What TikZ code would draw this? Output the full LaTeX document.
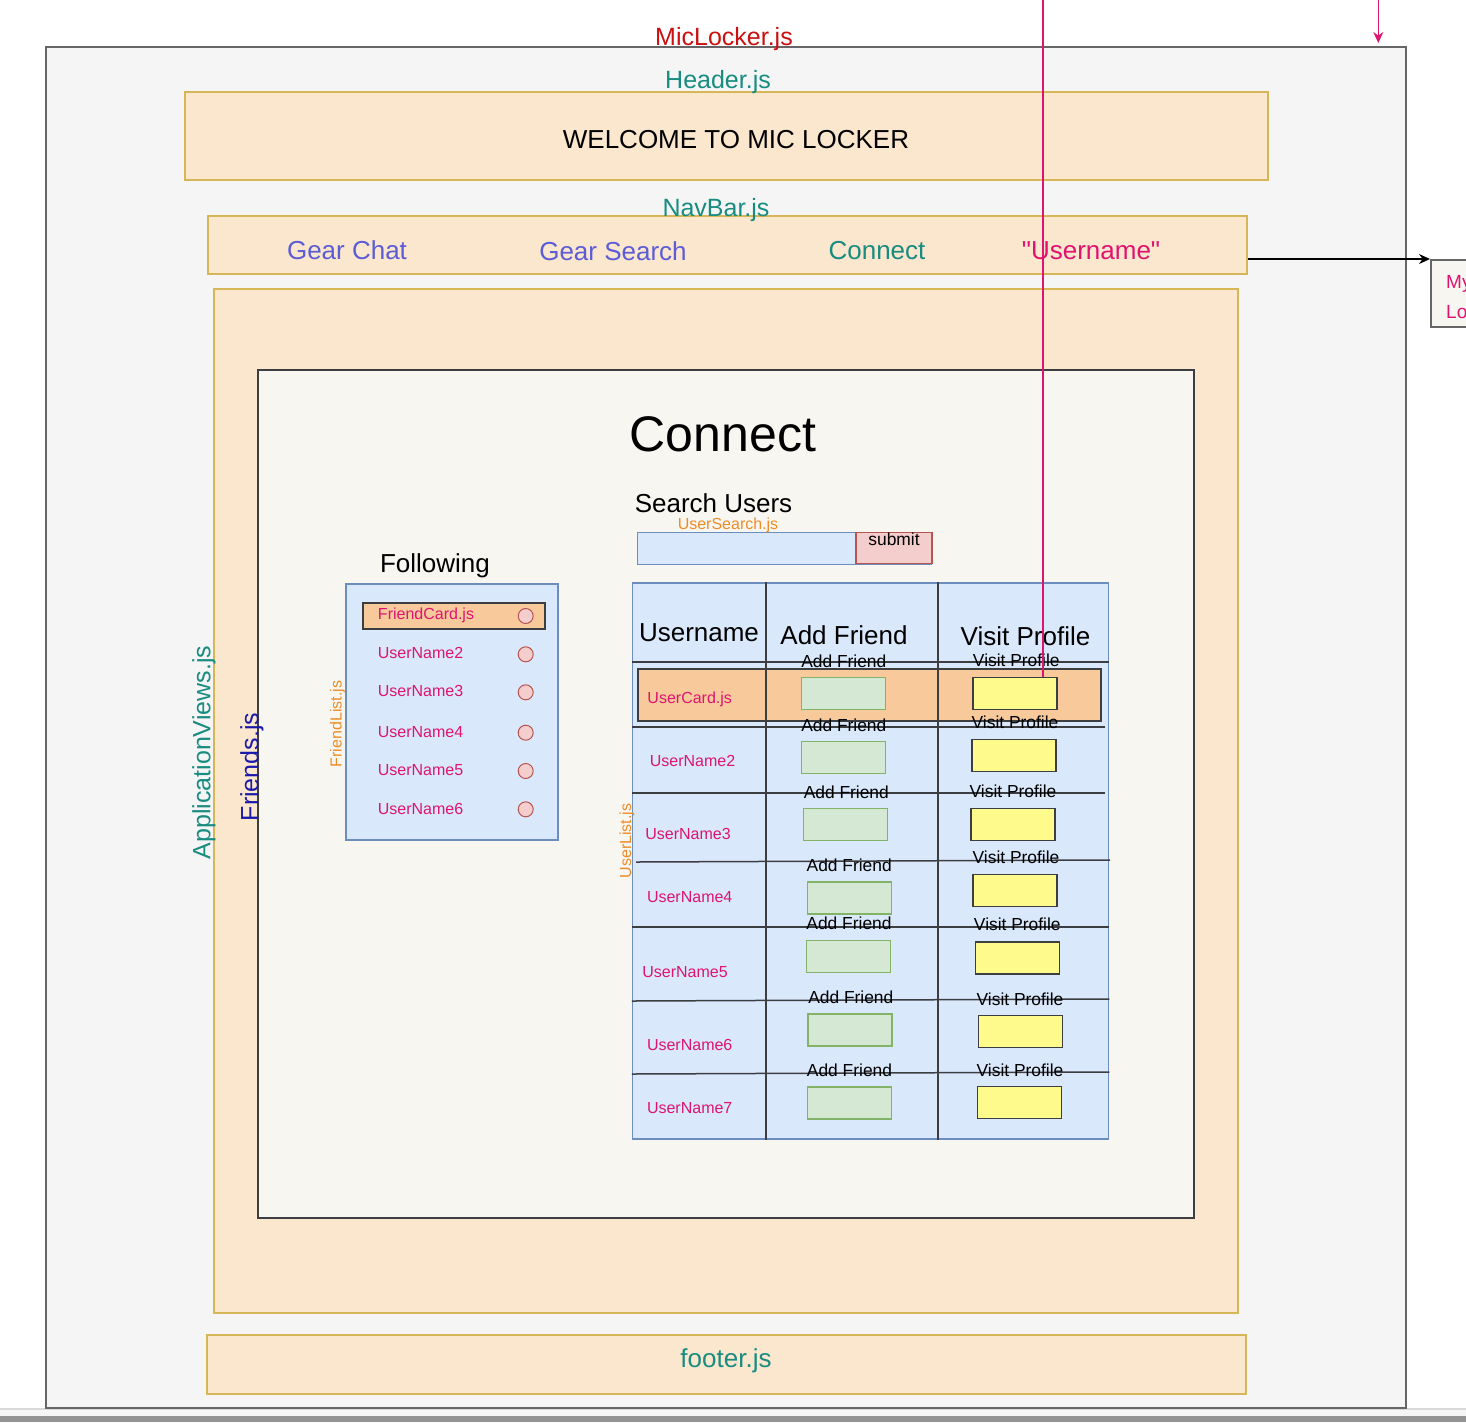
\documentclass[tikz,border=0pt]{standalone}
\usepackage{fontspec}
\setmainfont{Liberation Sans}
\usetikzlibrary{arrows.meta,positioning}
\definecolor{jsred}{RGB}{204,16,16}
\definecolor{jsteal}{RGB}{24,140,128}
\definecolor{navblue}{RGB}{92,92,214}
\definecolor{userpink}{RGB}{222,20,112}
\definecolor{compblue}{RGB}{26,26,170}
\definecolor{listorange}{RGB}{238,140,40}
\definecolor{framegray}{RGB}{102,102,102}
\definecolor{appbg}{RGB}{245,245,245}
\definecolor{compfill}{RGB}{251,230,206}
\definecolor{compline}{RGB}{214,182,86}
\definecolor{pagefill}{RGB}{248,246,240}
\definecolor{darkline}{RGB}{60,62,66}
\definecolor{listfill}{RGB}{218,232,252}
\definecolor{listline}{RGB}{108,142,191}
\definecolor{cardfill}{RGB}{248,202,155}
\definecolor{addfill}{RGB}{213,232,212}
\definecolor{addline}{RGB}{130,179,102}
\definecolor{visitfill}{RGB}{255,250,140}
\definecolor{redfill}{RGB}{244,206,204}
\definecolor{redline}{RGB}{184,84,80}
\tikzset{>={Stealth[length=11pt,width=10pt]}}
\tikzset{appframe/.style={draw=framegray, fill=appbg, line width=2pt}}
\tikzset{compbox/.style={draw=compline, fill=compfill, line width=1.5pt}}
\tikzset{pagebox/.style={draw=darkline, fill=pagefill, line width=1.5pt}}
\tikzset{listbox/.style={draw=listline, fill=listfill, line width=1.5pt}}
\tikzset{cardbox/.style={draw=darkline, fill=cardfill, line width=1.5pt}}
\tikzset{addbtn/.style={draw=addline, fill=addfill, line width=1.8pt, minimum width=84, minimum height=32}}
\tikzset{visitbtn/.style={draw=darkline, fill=visitfill, line width=1.5pt, minimum width=84, minimum height=32}}
\tikzset{dot/.style={circle, draw=redline, fill=redfill, line width=1pt, minimum size=15, inner sep=0pt}}
\tikzset{gridline/.style={draw=darkline, line width=1.5pt}}
\tikzset{pinkline/.style={draw=userpink, line width=1.2pt}}
\tikzset{lbl/.style={inner sep=0pt}}
\tikzset{bigtxt/.style={lbl, font=\fontsize{25}{30}\selectfont}}
\tikzset{headtxt/.style={lbl, font=\fontsize{26}{30}\selectfont}}
\tikzset{midtxt/.style={lbl, font=\fontsize{17.4}{20}\selectfont}}
\tikzset{smalltxt/.style={lbl, font=\fontsize{16}{19}\selectfont}}

\begin{document}
\begin{tikzpicture}[x=1pt, y=-1pt]
    \useasboundingbox (0,0) rectangle (1466,1422);
    \clip (0,0) rectangle (1466,1422);
    \fill[white] (0,0) rectangle (1466,1422);
    % window edge at the bottom
    \fill[gray!30] (0,1408) rectangle (1466,1410);
    \fill[appbg] (0,1410) rectangle (1466,1416);
    \fill[gray!85] (0,1416) rectangle (1466,1422);

    \node(miclocker)[appframe] [minimum width=1360, minimum height=1361] at (726,727.5) {};
    \node(header)[compbox] [minimum width=1083, minimum height=88] at (726.5,136) {};
    \node(navbar)[compbox] [minimum width=1039, minimum height=58] at (727.5,245) {};
    \node(appviews)[compbox] [minimum width=1024, minimum height=1024] at (726,801) {};
    \node(friends)[pagebox] [minimum width=936, minimum height=848] at (726,794) {};
    \node(footer)[compbox] [minimum width=1039, minimum height=59] at (726.5,1364.5) {};
    \node(mylocker)[pagebox] [draw=framegray, anchor=north west, minimum width=110, minimum height=67] at (1430,259) {};

    \node(search)[listbox] [minimum width=294, minimum height=32] at (784.5,548.5) {};
    \node(submit)[listbox] [draw=redline, fill=redfill, minimum width=76, minimum height=31] at (894,548) {};

    \node(flist)[listbox] [minimum width=212, minimum height=256] at (452,712) {};
    \node(fcard)[cardbox] [minimum width=182, minimum height=26] at (454,616) {};
    \node(fdot1)[dot] at (525.7,616) {};
    \node(fdot2)[dot] at (525.7,654.3) {};
    \node(fdot3)[dot] at (525.7,692.3) {};
    \node(fdot4)[dot] at (525.7,732.7) {};
    \node(fdot5)[dot] at (525.7,771) {};
    \node(fdot6)[dot] at (525.7,809.3) {};

    \node(ulist)[listbox] [minimum width=476, minimum height=556] at (870.5,861) {};
    \node(ucard)[cardbox] [minimum width=463, minimum height=52] at (869.5,695) {};

    \node(add1)[addbtn] at (843.5,693.5) {};
    \node(add2)[addbtn] at (843.5,757.5) {};
    \node(add3)[addbtn] at (845.5,824.5) {};
    \node(add4)[addbtn] at (849.5,898) {};
    \node(add5)[addbtn] at (848.5,956.5) {};
    \node(add6)[addbtn] at (850,1030) {};
    \node(add7)[addbtn] at (849.5,1103) {};

    \node(visit1)[visitbtn] at (1015,693.5) {};
    \node(visit2)[visitbtn] at (1014,755.5) {};
    \node(visit3)[visitbtn] at (1013,824.5) {};
    \node(visit4)[visitbtn] at (1015,890.5) {};
    \node(visit5)[visitbtn] at (1017.5,958) {};
    \node(visit6)[visitbtn] at (1020.5,1031.5) {};
    \node(visit7)[visitbtn] at (1019.5,1102.5) {};

    % table lines
    \draw[gridline] (ulist.north -| 766,0) -- (ulist.south -| 766,0);
    \draw[gridline] (ulist.north -| 938,0) -- (ulist.south -| 938,0);
    \draw[gridline] (ulist.west |- 0,662) -- (ulist.east |- 0,662);
    \draw[gridline] (ulist.west |- 0,727) -- (1105,727);
    \draw[gridline] (ulist.west |- 0,793) -- (1105,793);
    \draw[gridline] (636,862) -- (1110,860);
    \draw[gridline] (ulist.west |- 0,927) -- (ulist.east |- 0,927);
    \draw[gridline] (ulist.west |- 0,1001) -- (ulist.east |- 0,999);
    \draw[gridline] (ulist.west |- 0,1074) -- (ulist.east |- 0,1072);

    \node(miclockertxt)[bigtxt, text=jsred] at (724,39) {MicLocker.js};
    \node(headertxt)[bigtxt, text=jsteal] at (718,82) {Header.js};
    \node(welcome)[lbl, font=\fontsize{26}{30}\selectfont] at (736,140) {WELCOME TO MIC LOCKER};
    \node(navbartxt)[bigtxt, text=jsteal] at (716,210) {NavBar.js};
    \node(gearchat)[headtxt, text=navblue] at (347,250) {Gear Chat};
    \node(gearsearch)[headtxt, text=navblue] at (613,251) {Gear Search};
    \node(connectlink)[headtxt, text=jsteal] at (877,251) {Connect};
    \node(userlink)[headtxt, text=userpink] at (1091,251) {\textquotedbl Username\textquotedbl};
    \node(mylockertxt)[lbl, anchor=north west, align=left, text=userpink, font=\fontsize{19}{30}\selectfont] at (1446,275) {My\\Locker};
    \node(footertxt)[headtxt, text=jsteal] at (726,1361) {footer.js};

    \node(appviewstxt)[bigtxt, text=jsteal, rotate=90] at (204,752.5) {ApplicationViews.js};
    \node(friendstxt)[bigtxt, text=compblue, rotate=90] at (252,767) {Friends.js};
    \node(title)[lbl, font=\fontsize{50}{60}\selectfont] at (723,434) {Connect};

    \node(searchtxt)[headtxt] at (713.5,503) {Search Users};
    \node(usersearchtxt)[smalltxt, text=listorange] at (728,525) {UserSearch.js};
    \node(submittxt)[midtxt, below=1pt of submit.north] {submit};

    \node(followtxt)[headtxt] at (435,566) {Following};
    \node(flisttxt)[smalltxt, text=listorange, rotate=90] at (337.5,724) {FriendList.js};
    \node(fcardtxt)[smalltxt, text=userpink] at (426,615) {FriendCard.js};
    \node(fname2)[smalltxt, text=userpink] at (420.5,652.7) {UserName2};
    \node(fname3)[smalltxt, text=userpink] at (420.5,690.7) {UserName3};
    \node(fname4)[smalltxt, text=userpink] at (420.5,731.7) {UserName4};
    \node(fname5)[smalltxt, text=userpink] at (420.5,770) {UserName5};
    \node(fname6)[smalltxt, text=userpink] at (420.5,809) {UserName6};

    \node(ulisttxt)[smalltxt, text=listorange, rotate=90] at (627,841) {UserList.js};
    \node(colname)[headtxt] at (699,633) {Username};
    \node(coladd)[headtxt] at (844,635.5) {Add Friend};
    \node(colvisit)[headtxt] at (1025.5,635.7) {Visit Profile};
    \node(ucardtxt)[smalltxt, text=userpink] at (689.7,699) {UserCard.js};
    \node(uname2)[smalltxt, text=userpink] at (692.5,761) {UserName2};
    \node(uname3)[smalltxt, text=userpink] at (688,834) {UserName3};
    \node(uname4)[smalltxt, text=userpink] at (689.7,896.7) {UserName4};
    \node(uname5)[smalltxt, text=userpink] at (685,972) {UserName5};
    \node(uname6)[smalltxt, text=userpink] at (689.7,1045) {UserName6};
    \node(uname7)[smalltxt, text=userpink] at (689.7,1108.3) {UserName7};

    \node(addtxt1)[midtxt] at (843.8,661) {Add Friend};
    \node(addtxt2)[midtxt] at (843.8,725) {Add Friend};
    \node(addtxt3)[midtxt] at (846.3,792.7) {Add Friend};
    \node(addtxt4)[midtxt] at (849.2,865.7) {Add Friend};
    \node(addtxt5)[midtxt] at (849,923.3) {Add Friend};
    \node(addtxt6)[midtxt] at (850.8,997.7) {Add Friend};
    \node(addtxt7)[midtxt] at (849.5,1070) {Add Friend};
    \node(visittxt1)[midtxt] at (1016.3,660.7) {Visit Profile};
    \node(visittxt2)[midtxt] at (1015,722.7) {Visit Profile};
    \node(visittxt3)[midtxt] at (1013,791.7) {Visit Profile};
    \node(visittxt4)[midtxt] at (1016,857.3) {Visit Profile};
    \node(visittxt5)[midtxt] at (1017.3,924.7) {Visit Profile};
    \node(visittxt6)[midtxt] at (1020,999) {Visit Profile};
    \node(visittxt7)[midtxt] at (1020,1070) {Visit Profile};

    % connectors
    \draw[->, draw=black, line width=1.3pt] (navbar.east |- mylocker.north west) -- (mylocker.north west);
    \coordinate (pinktop) at (1043,0);
    \draw[pinkline] (pinktop) -- (pinktop |- visit1.north);
    \coordinate (dropsrc) at (1378.3,0);
    \coordinate (droptip) at (1378.3,43);
    \draw[pinkline, ->] (dropsrc) -- (droptip);
\end{tikzpicture}
\end{document}
